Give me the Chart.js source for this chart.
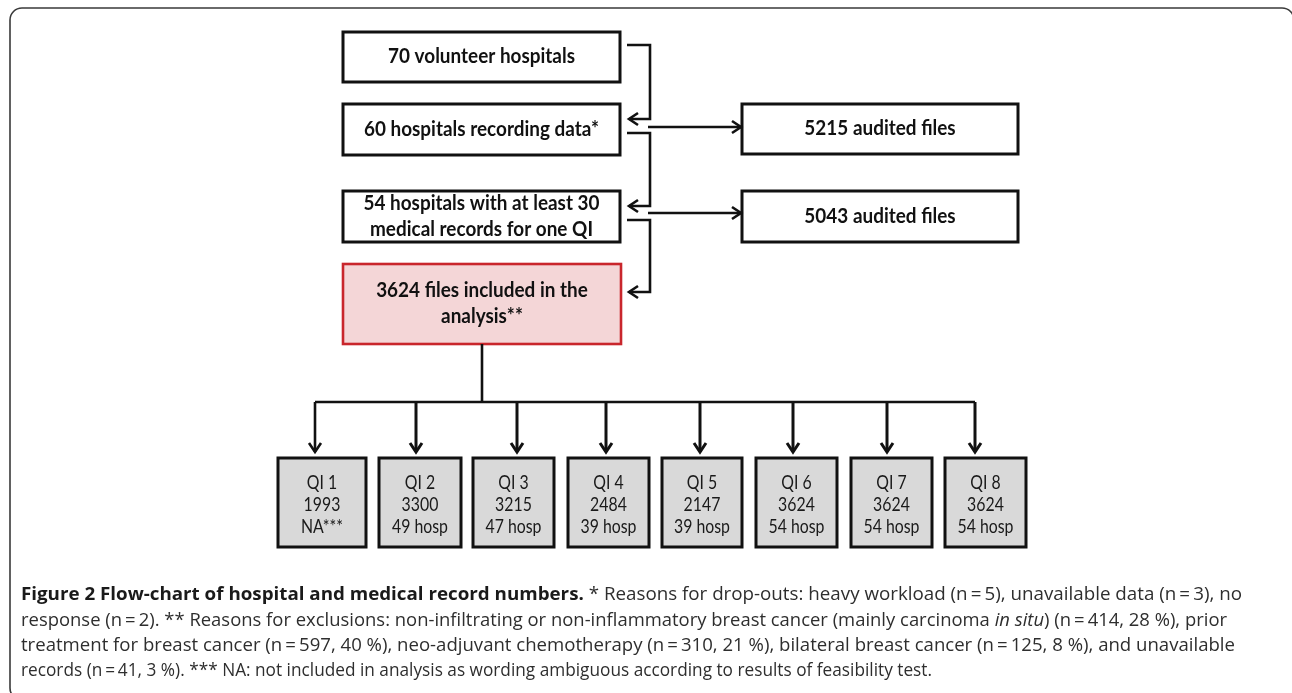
<!doctype html>
<html lang="en">
<head>
  <meta charset="utf-8">
  <title>Flow-chart of hospital and medical record numbers</title>
  <style>
    * { margin: 0; padding: 0; }
    body { background: #fff; width: 1292px; height: 693px; overflow: hidden; }
    #flow { display: block; }
  </style>
</head>
<body>
  <canvas id="flow" width="1292" height="693"></canvas>
  <script src="https://cdn.jsdelivr.net/npm/chart.js/dist/chart.umd.min.js"></script>
  <script>
    // data
    const stageLabels = [
      ['70 volunteer hospitals'],
      ['60 hospitals recording data*'],
      ['54 hospitals with at least 30', 'medical records for one QI'],
      ['3624 files included in the', 'analysis**']
    ];
    const auditLabels = ['5215 audited files', '5043 audited files'];
    const qiNames = ['QI 1', 'QI 2', 'QI 3', 'QI 4', 'QI 5', 'QI 6', 'QI 7', 'QI 8'];
    const qiFiles = [1993, 3300, 3215, 2484, 2147, 3624, 3624, 3624];
    const qiHosp = ['NA***', '49 hosp', '47 hosp', '39 hosp', '39 hosp', '54 hosp', '54 hosp', '54 hosp'];

    // layout (page units, drawn through the chart scales)
    const stageBoxes = [[343, 32, 620, 82], [343, 104, 620, 155], [343, 191, 620, 242], [343, 264, 621, 344]];
    const auditBoxes = [[742, 104, 1018, 154], [742, 191, 1018, 242]];
    const qiLeft = [278, 379, 473, 568, 662, 756, 851, 945];
    const qiRight = [366, 461, 554, 649, 742, 837, 932, 1026];
    const qiArrowX = [315, 416, 517, 606, 700, 793, 887, 975];

    const caption = [
      { y: 600, w: 1221, parts: [['b', 'Figure 2 Flow-chart of hospital and medical record numbers.'], ['r', ' * Reasons for drop-outs: heavy workload (n\u2009=\u20095), unavailable data (n\u2009=\u20093), no']] },
      { y: 626, w: 1206, parts: [['r', 'response (n\u2009=\u20092). ** Reasons for exclusions: non-infiltrating or non-inflammatory breast cancer (mainly carcinoma '], ['i', 'in situ'], ['r', ') (n\u2009=\u2009414, 28 %), prior']] },
      { y: 651, w: 1214, parts: [['r', 'treatment for breast cancer (n\u2009=\u2009597, 40 %), neo-adjuvant chemotherapy (n\u2009=\u2009310, 21 %), bilateral breast cancer (n\u2009=\u2009125, 8 %), and unavailable']] },
      { y: 676, w: 911, parts: [['r', 'records (n\u2009=\u200941, 3 %). *** NA: not included in analysis as wording ambiguous according to results of feasibility test.']] }
    ];

    const flowPlugin = {
      id: 'flowPlugin',
      afterDraw(chart) {
        const { ctx, scales: { x, y } } = chart;
        const px = v => x.getPixelForValue(v);
        const py = v => y.getPixelForValue(v);

        function rect(b, fill, stroke, lw) {
          const x0 = px(b[0]), y0 = py(b[1]), w = px(b[2]) - x0, h = py(b[3]) - y0;
          ctx.fillStyle = fill;
          ctx.fillRect(x0, y0, w, h);
          ctx.lineWidth = lw;
          ctx.strokeStyle = stroke;
          ctx.strokeRect(x0, y0, w, h);
        }
        function path(pts) {
          ctx.beginPath();
          pts.forEach((p, i) => i ? ctx.lineTo(px(p[0]), py(p[1])) : ctx.moveTo(px(p[0]), py(p[1])));
          ctx.stroke();
        }
        function head(tx, ty, dx, dy) {
          const L = 9, W = 6;
          const bx = tx - dx * L, by = ty - dy * L;
          ctx.beginPath();
          ctx.moveTo(bx - dy * W, by + dx * W);
          ctx.lineTo(tx, ty);
          ctx.lineTo(bx + dy * W, by - dx * W);
          ctx.stroke();
        }
        function label(str, cx, cy, font, sx, color) {
          ctx.save();
          ctx.font = font;
          ctx.fillStyle = color || '#111';
          ctx.textAlign = 'center';
          ctx.textBaseline = 'middle';
          ctx.translate(px(cx), py(cy));
          ctx.scale(sx, 1);
          ctx.fillText(str, 0, 0);
          ctx.restore();
        }

        // outer frame
        ctx.save();
        ctx.strokeStyle = '#3a3a3a';
        ctx.lineWidth = 1.6;
        ctx.beginPath();
        ctx.roundRect(px(10), py(8), px(1294) - px(10), py(700) - py(8), 12);
        ctx.stroke();
        ctx.restore();

        // fonts fitted to the reference widths
        const boldFont = 'bold 20px Lato';
        ctx.font = boldFont;
        const bsx = 187 / ctx.measureText('70 volunteer hospitals').width;
        const qiFont = '20px Lato';
        ctx.font = qiFont;
        const qsx = 56 / ctx.measureText('49 hosp').width;

        // main boxes
        ctx.lineJoin = 'miter';
        stageBoxes.forEach((b, i) => {
          const red = i === 3;
          rect(b, red ? '#f4d6d7' : '#ffffff', red ? '#c9262c' : '#111', red ? 2.6 : 3);
          const cx = (b[0] + b[2]) / 2, cy = (b[1] + b[3]) / 2;
          const lines = stageLabels[i];
          const gap = 26;
          lines.forEach((t, j) => label(t, cx, cy + (j - (lines.length - 1) / 2) * gap, boldFont, bsx));
        });
        auditBoxes.forEach((b, i) => {
          rect(b, '#ffffff', '#111', 3);
          label(auditLabels[i], (b[0] + b[2]) / 2, (b[1] + b[3]) / 2, boldFont, bsx);
        });

        // connectors
        ctx.strokeStyle = '#111';
        ctx.lineWidth = 2.6;
        ctx.lineCap = 'butt';
        const feeds = [[45, 119], [133, 206], [220, 292]];
        feeds.forEach(f => {
          path([[627, f[0]], [650, f[0]], [650, f[1]], [629, f[1]]]);
          head(px(629), py(f[1]), -1, 0);
        });
        [127, 213].forEach(ly => {
          path([[648, ly], [741, ly]]);
          head(px(741), py(ly), 1, 0);
        });
        path([[482, 344], [482, 402]]);
        path([[qiArrowX[0], 402], [qiArrowX[qiArrowX.length - 1], 402]]);

        // QI boxes
        qiNames.forEach((n, i) => {
          const ax = qiArrowX[i];
          path([[ax, 402], [ax, 452]]);
          head(px(ax), py(452), 0, 1);
          rect([qiLeft[i], 458, qiRight[i], 547], '#d9d9d9', '#111', 3);
          const cx = (qiLeft[i] + qiRight[i]) / 2;
          label(n, cx, 483, qiFont, qsx, '#1a1a1a');
          label(String(qiFiles[i]), cx, 505, qiFont, qsx, '#1a1a1a');
          label(qiHosp[i], cx, 527, qiFont, qsx, '#1a1a1a');
        });

        // caption
        const fonts = { b: 'bold 18.5px "Open Sans"', r: '18.5px "Open Sans"', i: 'italic 18.5px "Open Sans"' };
        caption.forEach(line => {
          let total = 0;
          line.parts.forEach(p => { ctx.font = fonts[p[0]]; total += ctx.measureText(p[1]).width; });
          const sx = line.w / total;
          ctx.save();
          ctx.translate(px(21), py(line.y));
          ctx.scale(sx, 1);
          ctx.textAlign = 'left';
          ctx.textBaseline = 'alphabetic';
          let cur = 0;
          line.parts.forEach(p => {
            ctx.font = fonts[p[0]];
            ctx.fillStyle = p[0] === 'b' ? '#1a1a1a' : '#2e2e2e';
            ctx.fillText(p[1], cur, 0);
            cur += ctx.measureText(p[1]).width;
          });
          ctx.restore();
        });
      }
    };

    const config = {
      type: 'scatter',
      data: {
        datasets: [{
          data: qiFiles.map((v, i) => ({ x: (qiLeft[i] + qiRight[i]) / 2, y: 502 })),
          pointRadius: 0
        }]
      },
      options: {
        responsive: false,
        devicePixelRatio: 1,
        animation: false,
        layout: { padding: 0 },
        plugins: { legend: { display: false }, tooltip: { enabled: false } },
        scales: {
          x: { type: 'linear', min: 0, max: 1292, display: false },
          y: { type: 'linear', min: 0, max: 693, reverse: true, display: false }
        }
      },
      plugins: [flowPlugin]
    };

    const flowChart = new Chart(document.getElementById('flow'), config);
  </script>
</body>
</html>
